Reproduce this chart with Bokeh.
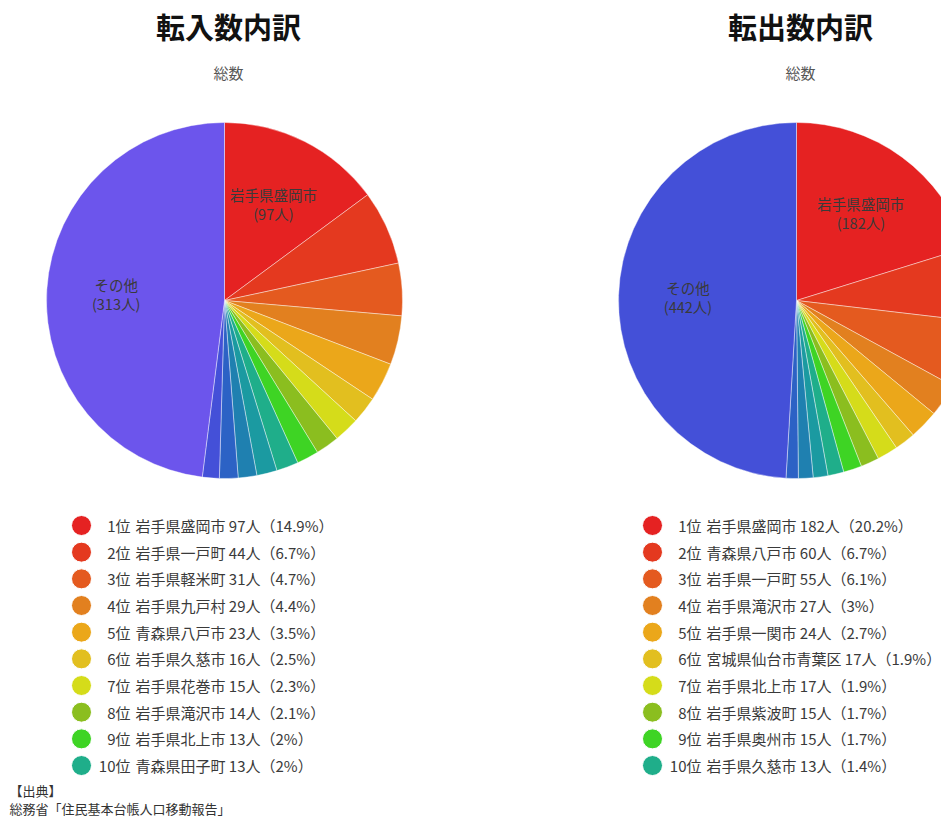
import numpy as np
from bokeh.plotting import figure
from bokeh.models import Range1d
from bokeh.core.properties import value
from bokeh.embed import file_html
from bokeh.resources import INLINE

FONT = "Noto Sans CJK JP"

# ---------------- data ----------------
in_title = "転入数内訳"
out_title = "転出数内訳"
subtitle = "総数"

in_names = ["岩手県盛岡市", "岩手県一戸町", "岩手県軽米町", "岩手県九戸村", "青森県八戸市",
            "岩手県久慈市", "岩手県花巻市", "岩手県滝沢市", "岩手県北上市", "青森県田子町"]
in_values = [97, 44, 31, 29, 23, 16, 15, 14, 13, 13]
in_pcts = ["14.9%", "6.7%", "4.7%", "4.4%", "3.5%", "2.5%", "2.3%", "2.1%", "2%", "2%"]
in_rest = [12, 11, 11, 10]      # 11位以下（凡例なし）
in_other = 313

out_names = ["岩手県盛岡市", "青森県八戸市", "岩手県一戸町", "岩手県滝沢市", "岩手県一関市",
             "宮城県仙台市青葉区", "岩手県北上市", "岩手県紫波町", "岩手県奥州市", "岩手県久慈市"]
out_values = [182, 60, 55, 27, 24, 17, 17, 15, 15, 13]
out_pcts = ["20.2%", "6.7%", "6.1%", "3%", "2.7%", "1.9%", "1.9%", "1.7%", "1.7%", "1.4%"]
out_rest = [12, 12, 10]
out_other = 442

other_label = "その他"
source_lines = ["【出典】", "総務省「住民基本台帳人口移動報告」"]

palette = ["#e52222", "#e4391f", "#e45a1f", "#e2801f", "#eba71a", "#e2bf1f", "#d5dc1a",
           "#8bbe1f", "#3ed424", "#1fae8a", "#1b9aa1", "#1f80b0", "#2c62c5", "#4450d8",
           "#6c55ec"]

# ---------------- figure ----------------
W, H = 941, 820
p = figure(width=W, height=H, x_range=Range1d(0, W), y_range=Range1d(0, H),
           output_backend="svg", toolbar_location=None, min_border=0)
p.axis.visible = False
p.grid.visible = False
p.outline_line_color = None
p.background_fill_color = "white"
p.border_fill_color = "white"


def Y(img_y):
    return H - img_y


def draw_panel(cx, title, names, values, pcts, rest, other, legend_x):
    cy = Y(300)
    R = 178
    vals = list(values) + list(rest) + [other]
    total = float(sum(vals))
    cum = np.cumsum([0] + vals)
    start = np.pi / 2 - 2 * np.pi * cum[:-1] / total
    end = np.pi / 2 - 2 * np.pi * cum[1:] / total
    colors = palette[:len(vals)]
    p.wedge(x=cx, y=cy, radius=R, start_angle=list(start), end_angle=list(end),
            direction="clock", fill_color=colors, line_color="white",
            line_width=0.7, line_alpha=0.6)

    # labels inside large slices
    labels = list(names) + [""] * len(rest) + [other_label]
    for i, v in enumerate(vals):
        if v / total > 0.1:
            mid = (start[i] + end[i]) / 2
            lx = cx + 0.61 * R * np.cos(mid)
            ly = cy + 0.61 * R * np.sin(mid)
            p.text(x=[lx], y=[ly + 9.5], text=[labels[i]], text_align="center",
                   text_baseline="middle", text_font=value(FONT),
                   text_font_size=value("14.5px"), text_color="#3a3a3a")
            p.text(x=[lx], y=[ly - 9.5], text=["(%d人)" % v], text_align="center",
                   text_baseline="middle", text_font=value(FONT),
                   text_font_size=value("14.5px"), text_color="#3a3a3a")

    # titles
    p.text(x=[cx + 4], y=[Y(25)], text=[title], text_align="center", text_baseline="middle",
           text_font=value(FONT), text_font_size=value("29px"), text_font_style="bold",
           text_color="#111111")
    p.text(x=[cx + 4], y=[Y(72)], text=[subtitle], text_align="center",
           text_baseline="middle", text_font=value(FONT), text_font_size=value("15px"),
           text_color="#555555")

    # legend
    ys = [Y(525 + i * 26.67) for i in range(len(names))]
    p.scatter(x=[legend_x] * len(names), y=ys, size=20, marker="circle",
              fill_color=palette[:len(names)], line_color="white", line_width=1)
    p.text(x=[legend_x + 49] * len(names), y=ys,
           text=["%d位" % (i + 1) for i in range(len(names))],
           text_align="right", text_baseline="middle", text_font=value(FONT),
           text_font_size=value("15px"), text_color="#3a3a3a")
    p.text(x=[legend_x + 54] * len(names), y=ys,
           text=["%s %d人（%s）" % (n, v, pc) for n, v, pc in zip(names, values, pcts)],
           text_align="left", text_baseline="middle", text_font=value(FONT),
           text_font_size=value("15px"), text_color="#3a3a3a")


draw_panel(224, in_title, in_names, in_values, in_pcts, in_rest, in_other, 81)
draw_panel(796, out_title, out_names, out_values, out_pcts, out_rest, out_other, 652)

# source
p.text(x=[9, 9], y=[Y(790), Y(808)], text=source_lines, text_align="left",
       text_baseline="middle", text_font=value(FONT), text_font_size=value("13px"),
       text_color="#333333")

open("out.html", "w").write(file_html(p, INLINE))
